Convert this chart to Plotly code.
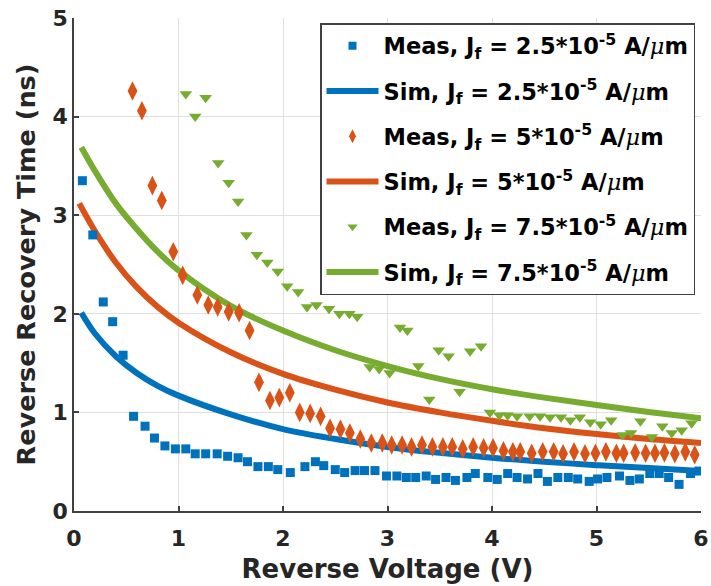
import plotly.graph_objects as go

# ---------------- data ----------------
meas1_x = [0.08, 0.18, 0.28, 0.37, 0.47, 0.57, 0.68, 0.77, 0.87, 0.97, 1.07, 1.16, 1.26, 1.37, 1.47, 1.57,
           1.66, 1.76, 1.86, 1.95, 2.07, 2.21, 2.31, 2.39, 2.50, 2.59, 2.69, 2.78, 2.88, 2.99, 3.09, 3.18,
           3.27, 3.37, 3.46, 3.56, 3.65, 3.76, 3.84, 3.96, 4.05, 4.15, 4.24, 4.34, 4.44, 4.53, 4.63, 4.73,
           4.82, 4.93, 5.01, 5.10, 5.22, 5.32, 5.41, 5.51, 5.60, 5.69, 5.79, 5.90, 5.98]
meas1_y = [3.35, 2.80, 2.12, 1.92, 1.58, 0.96, 0.86, 0.74, 0.66, 0.63, 0.63, 0.58, 0.58, 0.58, 0.555, 0.54,
           0.50, 0.45, 0.45, 0.42, 0.39, 0.45, 0.50, 0.46, 0.42, 0.39, 0.41, 0.41, 0.41, 0.355, 0.355, 0.34,
           0.34, 0.355, 0.32, 0.34, 0.31, 0.34, 0.38, 0.34, 0.32, 0.38, 0.34, 0.325, 0.38, 0.30, 0.34, 0.34,
           0.325, 0.30, 0.325, 0.34, 0.355, 0.31, 0.325, 0.38, 0.38, 0.34, 0.27, 0.38, 0.405]

meas2_x = [0.56, 0.65, 0.75, 0.84, 0.95, 1.04, 1.18, 1.285, 1.375, 1.48, 1.58, 1.68, 1.77, 1.875, 1.965,
           2.065, 2.16, 2.26, 2.36, 2.45, 2.55, 2.64, 2.74, 2.845, 2.95, 3.04, 3.14, 3.23, 3.33, 3.43, 3.53,
           3.62, 3.72, 3.82, 3.92, 4.01, 4.11, 4.20, 4.27, 4.38, 4.485, 4.59, 4.68, 4.785, 4.89, 4.99, 5.09,
           5.19, 5.26, 5.37, 5.47, 5.56, 5.65, 5.75, 5.85, 5.94]
meas2_y = [4.26, 4.06, 3.30, 3.15, 2.63, 2.39, 2.19, 2.09, 2.07, 2.02, 2.01, 1.83, 1.305, 1.12, 1.15,
           1.20, 1.00, 0.99, 0.96, 0.84, 0.83, 0.79, 0.73, 0.69, 0.69, 0.67, 0.67, 0.65, 0.67, 0.65, 0.65,
           0.65, 0.63, 0.65, 0.64, 0.64, 0.61, 0.60, 0.60, 0.585, 0.60, 0.60, 0.58, 0.60, 0.58, 0.585, 0.60,
           0.585, 0.585, 0.59, 0.585, 0.585, 0.59, 0.58, 0.60, 0.57]

meas3_x = [1.07, 1.16, 1.26, 1.38, 1.48, 1.57, 1.65, 1.75, 1.85, 1.95, 2.04, 2.145, 2.23, 2.32, 2.44, 2.54,
           2.635, 2.71, 2.83, 2.92, 3.02, 3.12, 3.19, 3.295, 3.40, 3.49, 3.585, 3.69, 3.79, 3.895, 3.98,
           4.07, 4.15, 4.24, 4.36, 4.46, 4.555, 4.66, 4.75, 4.84, 4.94, 5.04, 5.14, 5.25, 5.33, 5.42, 5.53,
           5.63, 5.72, 5.815, 5.91]
meas3_y = [4.23, 4.00, 4.19, 3.53, 3.33, 3.14, 2.80, 2.60, 2.52, 2.43, 2.28, 2.22, 2.07, 2.09, 2.05, 2.00,
           2.00, 1.97, 1.46, 1.44, 1.40, 1.86, 1.83, 1.47, 1.13, 1.63, 1.57, 1.21, 1.62, 1.67, 1.00,
           0.97, 0.97, 0.96, 0.96, 0.96, 0.95, 0.95, 0.92, 0.95, 0.90, 0.88, 0.92, 0.77, 0.79, 0.91, 0.75,
           0.86, 0.79, 0.82, 0.89]

sim1_x = [0.07, 0.2, 0.4, 0.6, 0.8, 1.0, 1.5, 2.0, 2.5, 3.0, 3.5, 4.0, 4.5, 5.0, 5.5, 6.0]
sim1_y = [2.01, 1.80, 1.57, 1.40, 1.27, 1.17, 0.98, 0.83, 0.73, 0.65, 0.59, 0.54, 0.50, 0.465, 0.435, 0.405]

sim2_x = [0.05, 0.2, 0.4, 0.6, 0.8, 1.0, 1.5, 2.0, 2.5, 3.0, 3.5, 4.0, 4.5, 5.0, 5.5, 6.0]
sim2_y = [3.12, 2.84, 2.52, 2.27, 2.07, 1.91, 1.61, 1.39, 1.23, 1.10, 1.00, 0.915, 0.84, 0.78, 0.73, 0.69]

sim3_x = [0.07, 0.2, 0.4, 0.6, 0.8, 1.0, 1.5, 2.0, 2.5, 3.0, 3.5, 4.0, 4.5, 5.0, 5.5, 6.0]
sim3_y = [3.69, 3.45, 3.12, 2.86, 2.63, 2.44, 2.08, 1.83, 1.63, 1.47, 1.34, 1.235, 1.15, 1.075, 1.005, 0.94]

MU = "<span style='font-style:italic;font-weight:normal;font-family:DejaVu Serif'>μ</span>"
names_meas = ["Meas, J<sub>f</sub> = 2.5*10<sup>-5</sup> A/" + MU + "m",
              "Meas, J<sub>f</sub> = 5*10<sup>-5</sup> A/" + MU + "m",
              "Meas, J<sub>f</sub> = 7.5*10<sup>-5</sup> A/" + MU + "m"]
names_sim = ["Sim, J<sub>f</sub> = 2.5*10<sup>-5</sup> A/" + MU + "m",
             "Sim, J<sub>f</sub> = 5*10<sup>-5</sup> A/" + MU + "m",
             "Sim, J<sub>f</sub> = 7.5*10<sup>-5</sup> A/" + MU + "m"]

x_ticks = [0, 1, 2, 3, 4, 5, 6]
y_ticks = [0, 1, 2, 3, 4, 5]

colors = ["#0072BD", "#D95319", "#77AC30"]
symbols = ["square", "diamond-tall", "triangle-down"]
msizes = [9, 14, 11]
legend_msizes = [8, 10, 9]

fig = go.Figure()
sims = [(sim1_x, sim1_y), (sim2_x, sim2_y), (sim3_x, sim3_y)]
meas = [(meas1_x, meas1_y), (meas2_x, meas2_y), (meas3_x, meas3_y)]

for i, (sx, sy) in enumerate(sims):
    fig.add_trace(go.Scatter(x=sx, y=sy, mode="lines", name=names_sim[i],
                             line=dict(color=colors[i], width=6, shape="spline", smoothing=1.0),
                             legendrank=2 * i + 2, legendgroup=f"s{i}"))
for i, (mx, my) in enumerate(meas):
    fig.add_trace(go.Scatter(x=mx, y=my, mode="markers", name=names_meas[i], showlegend=False,
                             marker=dict(color=colors[i], symbol=symbols[i], size=msizes[i], line=dict(width=0)),
                             legendgroup=f"m{i}"))
    # legend entry with the smaller legend glyph
    fig.add_trace(go.Scatter(x=[None], y=[None], mode="markers", name=names_meas[i],
                             marker=dict(color=colors[i], symbol=symbols[i], size=legend_msizes[i], line=dict(width=0)),
                             legendrank=2 * i + 1, legendgroup=f"m{i}"))

axis_font = dict(family="DejaVu Sans", size=22, color="#262626", weight="bold")
xtitle_font = dict(family="DejaVu Sans", size=26, color="#262626", weight="bold")
ytitle_font = dict(family="DejaVu Sans", size=25.5, color="#262626", weight="bold")

fig.update_layout(
    width=711, height=586,
    margin=dict(l=74, r=10, t=18, b=75, autoexpand=False),
    paper_bgcolor="white", plot_bgcolor="white",
    showlegend=True,
    legend=dict(x=(695 - 74) / 627, y=(511 - 23) / 493, xanchor="right", yanchor="top",
                bgcolor="white", bordercolor="#404040", borderwidth=1.5,
                font=dict(family="DejaVu Sans", size=22.5, color="black", weight="bold"),
                tracegroupgap=13, itemwidth=52),
    xaxis=dict(range=[0, 6], tickvals=x_ticks, showgrid=True, gridcolor="#e0e0e0", gridwidth=1,
               showline=True, linecolor="#404040", linewidth=1.5, ticks="inside", ticklen=5,
               tickcolor="#404040", tickwidth=1.5, zeroline=False, tickfont=axis_font,
               automargin=False, ticklabelstandoff=7,
               title=dict(text="Reverse Voltage (V)", font=xtitle_font, standoff=10)),
    yaxis=dict(range=[0, 5], tickvals=y_ticks, showgrid=True, gridcolor="#e0e0e0", gridwidth=1,
               showline=True, linecolor="#404040", linewidth=1.5, ticks="inside", ticklen=5,
               tickcolor="#404040", tickwidth=1.5, zeroline=False, tickfont=axis_font,
               automargin=False,
               title=dict(text="Reverse Recovery Time (ns)", font=ytitle_font, standoff=10)),
)

fig.write_html("out.html")
